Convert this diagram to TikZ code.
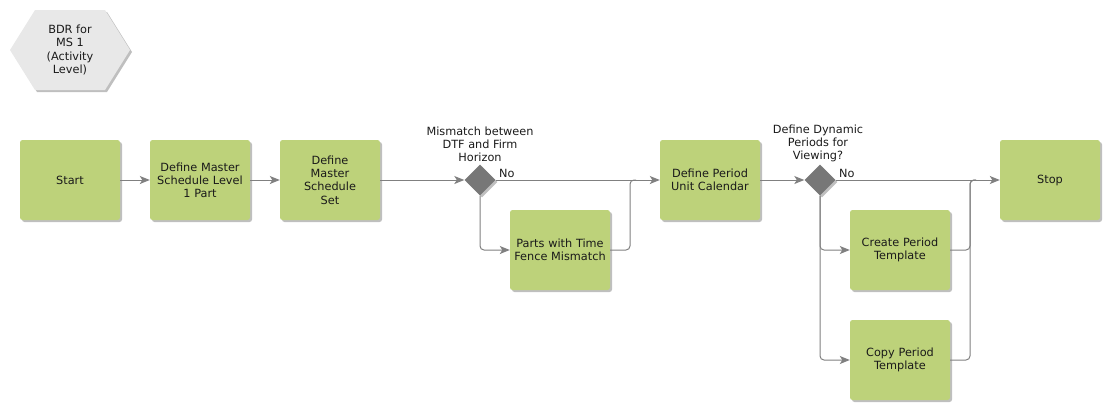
\documentclass[tikz,border=0pt]{standalone}
\usepackage{fontspec}
\setmainfont{DejaVu Sans}
\usetikzlibrary{shapes.geometric,arrows.meta,shadows}
\definecolor{boxgreen}{HTML}{BDD27A}
\definecolor{linegrey}{HTML}{808080}
\definecolor{diagrey}{HTML}{777777}
\definecolor{hexgrey}{HTML}{E8E8E8}
\definecolor{txt}{HTML}{1A1A1A}
\tikzset{
  every node/.style={font=\fontsize{11.3}{13.2}\selectfont, text=txt},
  shd/.style={drop shadow={shadow xshift=2pt, shadow yshift=-2pt, fill=black, opacity=0.25}},
  task/.style={shd, fill=boxgreen, rounded corners=2.5pt, minimum width=100pt, minimum height=80pt, text width=96pt, align=center, inner sep=0pt},
  gate/.style={shd, diamond, fill=diagrey, minimum size=31pt, inner sep=0pt, aspect=1},
  conn/.style={draw=linegrey, line width=1pt, rounded corners=4pt},
  arr/.style={conn, -{Stealth[length=10pt,width=8pt,inset=2.5pt]}, color=linegrey},
  lbl/.style={align=center, inner sep=0pt}
}
\begin{document}
\begin{tikzpicture}[x=1pt,y=-1pt]
\useasboundingbox (0,0) rectangle (1110,410);
% hexagon
\filldraw[shd, fill=hexgrey, draw=none] (10,50) -- (35,10) -- (105,10) -- (130,50) -- (105,90) -- (35,90) -- cycle;
\node[lbl] (title) at (70,50) {BDR for\\MS 1\\(Activity\\Level)};
% tasks
\node[task] (start) at (70,180) {Start};
\node[task] (l1) at (200,180) {Define Master\\Schedule Level\\1 Part};
\node[task] (set) at (330,180) {Define\\Master\\Schedule\\Set};
\node[gate] (d1) at (480,180) {};
\node[lbl, anchor=south] (q1) at (480,162) {Mismatch between\\DTF and Firm\\Horizon};
\node[task] (parts) at (560,250) {Parts with Time\\Fence Mismatch};
\node[task] (cal) at (710,180) {Define Period\\Unit Calendar};
\node[gate] (d2) at (820,180) {};
\node[lbl, anchor=south] (q2) at (818,162) {Define Dynamic\\Periods for\\Viewing?};
\node[task] (create) at (900,250) {Create Period\\Template};
\node[task] (copy) at (900,360) {Copy Period\\Template};
\node[task] (stop) at (1050,180) {Stop};
% junctions
\coordinate (j1) at (630,180);
\coordinate (j2) at (970,180);
% connectors
\draw[arr] (start.east) -- (l1.west);
\draw[arr] (l1.east) -- (set.west);
\draw[arr] (set.east) -- (d1.west);
\draw[arr] (d1.east) -- (cal.west);
\node[lbl, anchor=west] (no1) at (499,173) {No};
\draw[arr] (d1.south) |- (parts.west);
\draw[conn] (parts.east) -| (j1) -- ++(6,0);
\draw[arr] (cal.east) -- (d2.west);
\draw[arr] (d2.east) -- (stop.west);
\node[lbl, anchor=west] (no2) at (839,173) {No};
\draw[arr] (d2.south) |- (create.west);
\draw[arr] (d2.south) |- (copy.west);
\draw[conn] (create.east) -| (j2) -- ++(6,0);
\draw[conn] (copy.east) -| (j2) -- ++(6,0);
\end{tikzpicture}
\end{document}
